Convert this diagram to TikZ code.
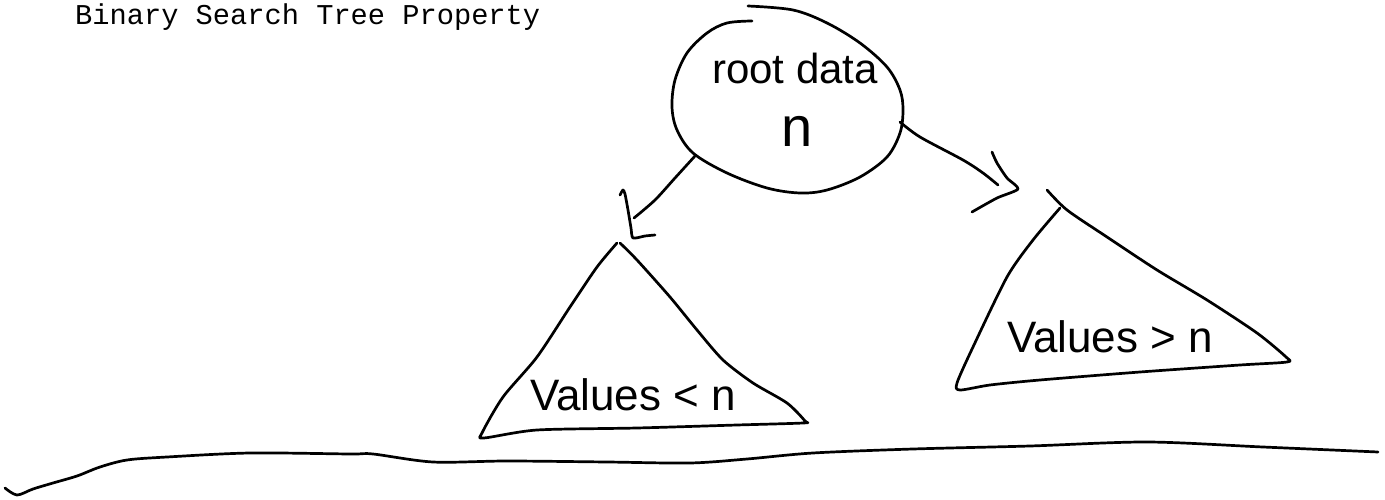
\documentclass[tikz,border=0pt]{standalone}
\usepackage{fontspec}
\setmainfont{Liberation Sans}
\newfontfamily\titlefont{Liberation Mono}
\begin{document}
\begin{tikzpicture}[x=1pt,y=-1pt,
  pen/.style={line width=2.7pt, line cap=round, line join=round},
  hand/.style={font=\fontsize{42}{48}\selectfont, inner sep=0pt, anchor=base},
  titletext/.style={font=\titlefont\fontsize{28.7}{32}\selectfont, anchor=base west, inner sep=0pt}]
\useasboundingbox (0,0) rectangle (1385,500);

% title
\node[titletext] (title) at (75,24.3) {Binary Search Tree Property};

% root node (hand-drawn outline)
\draw[pen] plot[smooth, tension=0.55] coordinates {
  (752,21) (727,23) (707,33) (687,53) (675,80) (672,107) (677,130)
  (693,153) (727,173) (767,188) (800,193) (827,190) (860,177) (887,157)
  (900,133) (903,110) (900,90) (887,67) (860,43) (827,23) (793,10) (748,6)};
\node[hand] (rootlbl) at (795,84) {root data};
\node[hand, font=\fontsize{56}{60}\selectfont] (rootn) at (797,147) {n};

% left arrow
\coordinate (lfrom) at (695,156);
\coordinate (lto) at (634,218);
\draw[pen] plot[smooth, tension=0.5] coordinates {(lfrom) (675,178) (655,200) (lto)};
\draw[pen] plot[smooth, tension=0.4] coordinates {
  (620,195) (623,190) (625,194) (628,210) (631,228) (633,238) (645,236) (655,235)};

% right arrow
\coordinate (rfrom) at (900,122);
\coordinate (rto) at (998,185);
\draw[pen] plot[smooth, tension=0.5] coordinates {(rfrom) (920,137) (963,160) (983,173) (rto)};
\draw[pen] plot[smooth, tension=0.4] coordinates {
  (992,152) (997,163) (1007,178) (1018,189) (997,198) (972,212)};

% left subtree
\draw[pen] plot[smooth, tension=0.45] coordinates {
  (617,243) (597,267) (570,307) (537,357) (503,397) (482,433) (484,438)
  (537,430) (637,428) (737,425) (803,423) (805,421) (787,403) (753,383)
  (723,360) (697,330) (670,297) (637,260) (620,243)};
\node[hand, font=\fontsize{44}{48}\selectfont] (leftlbl) at (633,410) {Values < n};

% right subtree
\draw[pen] plot[smooth, tension=0.45] coordinates {
  (1060,208) (1033,240) (1007,277) (973,347) (957,383) (960,390)
  (990,385) (1040,380) (1140,372) (1240,365) (1287,362) (1286,357)
  (1257,333) (1207,300) (1157,270) (1107,237) (1067,210) (1047,190)};
\node[hand, font=\fontsize{44}{48}\selectfont] (rightlbl) at (1110,352) {Values > n};

% ground line
\draw[pen] plot[smooth, tension=0.5] coordinates {
  (5,488) (17,495) (33,489) (53,483) (77,476) (100,467) (127,460) (167,457)
  (250,453) (350,454) (373,454) (433,462) (507,461) (607,462) (690,463)
  (747,459) (813,453) (913,449) (1030,446) (1147,442) (1263,447) (1378,452)};
\end{tikzpicture}
\end{document}
